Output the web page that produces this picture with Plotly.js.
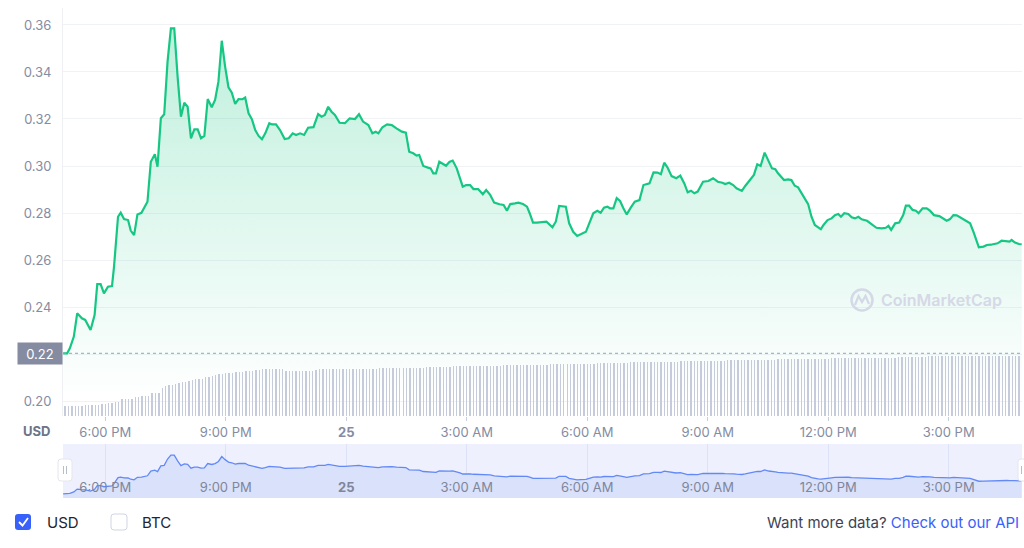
<!DOCTYPE html>
<html>
<head>
<meta charset="utf-8">
<script src="https://cdn.plot.ly/plotly-3.0.1.min.js"></script>
<style>
html,body{margin:0;padding:0;background:#fff;}
#chart{width:1024px;height:548px;}
</style>
</head>
<body>
<div id="chart"></div>
<script>
// ---- DATA ----
// price samples: minutes after 6:00 PM (day 24) and USD price
const priceMinutes = [
-63,-57,-53,-47,-42,-35,-30,-22,-16,-12,-7,-2,4,10,13,19,23,28,34,38,43,48,54,63,68,74,78,83,88,93,98,103,108,113,118,123,128,133,138,143,148,153,159,164,169,174,179,184,189,194,199,205,209,214,219,224,229,234,239,245,249,255,261,268,274,280,285,291,297,
303,311,318,323,328,333,338,343,350,358,365,373,379,385,393,399,404,408,414,421,428,435,443,449,454,460,465,469,475,482,486,490,494,499,504,509,514,519,525,530,534,539,545,550,557,564,569,575,581,589,595,600,605,612,617,624,630,634,639,645,654,
659,668,673,678,688,693,699,705,710,718,723,729,735,740,745,750,754,759,764,769,774,779,785,791,798,804,813,819,825,830,835,840,846,853,859,865,870,875,880,885,893,901,908,915,922,926,932,938,943,951,956,963,969,974,979,985,991,996,1001,1005,
1014,1020,1025,1030,1035,1040,1045,1050,1055,1060,1065,1069,1073,1079,1085,1090,1095,1099,1104,1110,1115,1120,1125,1130,1138,1145,1152,1160,1166,1170,1174,1180,1186,1192,1196,1201,1206,1211,1215,1221,1227,1232,1238,1246,1252,1257,1262,1267,1272,1279,1286,1292,1297,1301,1305,1312,1317,1323,1329,1333,1339,1347,1351,1354,1359,1365,1369];
const priceUsd = [
0.2203,0.2203,0.2224,0.2274,0.2373,0.2352,0.2345,0.2302,0.2366,0.2497,0.2497,0.2458,0.2486,0.2489,0.2571,0.2784,0.2801,0.2774,0.2770,0.2725,0.2706,0.2794,0.2801,0.2848,0.3018,0.3050,0.2997,0.3203,0.3220,0.3444,0.3586,0.3586,0.3380,0.3210,0.3269,0.3252,0.3118,0.3156,0.3156,0.3118,0.3128,0.3285,0.3250,0.3281,0.3359,0.3533,0.3423,0.3335,0.3312,0.3264,0.3285,0.3284,0.3291,0.3224,0.3199,0.3153,0.3128,0.3114,0.3139,0.3182,0.3177,0.3177,0.3153,0.3115,0.3118,0.3139,0.3132,0.3139,0.3132,
0.3163,0.3165,0.3221,0.3210,0.3217,0.3252,0.3231,0.3217,0.3184,0.3182,0.3203,0.3200,0.3220,0.3189,0.3174,0.3139,0.3146,0.3139,0.3165,0.3177,0.3174,0.3160,0.3146,0.3142,0.3061,0.3054,0.3044,0.3047,0.3000,0.2993,0.2990,0.2969,0.2969,0.3018,0.3009,0.3001,0.3017,0.3023,0.2990,0.2948,0.2912,0.2919,0.2919,0.2902,0.2902,0.2880,0.2898,0.2877,0.2844,0.2837,0.2834,0.2810,0.2838,0.2841,0.2844,0.2838,0.2827,0.2799,0.2759,0.2759,0.2760,
0.2763,0.2739,0.2763,0.2830,0.2827,0.2756,0.2720,0.2702,0.2709,0.2720,0.2756,0.2799,0.2809,0.2801,0.2823,0.2827,0.2820,0.2820,0.2863,0.2851,0.2820,0.2794,0.2823,0.2848,0.2855,0.2919,0.2926,0.2973,0.2972,0.2965,0.3014,0.2993,0.2957,0.2948,0.2959,0.2926,0.2888,0.2895,0.2884,0.2891,0.2933,0.2936,0.2948,0.2933,0.2929,0.2923,0.2929,0.2919,0.2905,0.2894,0.2915,0.2943,0.2962,0.3007,0.3000,0.3057,0.3018,0.2990,0.2986,0.2969,
0.2940,0.2943,0.2940,0.2916,0.2909,0.2886,0.2863,0.2838,0.2784,0.2749,0.2739,0.2731,0.2749,0.2770,0.2777,0.2791,0.2796,0.2784,0.2799,0.2796,0.2782,0.2777,0.2784,0.2773,0.2767,0.2752,0.2737,0.2735,0.2737,0.2745,0.2728,0.2756,0.2759,0.2791,0.2831,0.2831,0.2813,0.2810,0.2799,0.2820,0.2820,0.2810,0.2791,0.2787,0.2777,0.2767,0.2774,0.2791,0.2790,0.2777,0.2766,0.2756,0.2720,0.2685,0.2654,0.2657,0.2664,0.2665,0.2668,0.2671,0.2682,0.2681,0.2678,0.2685,0.2674,0.2668,0.2667];

// volume bars, one every 5 minutes starting 5:00 PM (arbitrary units, read as bar heights)
const volumeStartMinute = -60;
const volumeStepMinutes = 5;
const volume = [
1.0,1.0,1.0,1.0,1.0,1.0,1.1,1.1,1.1,1.1,1.1,
1.2,1.2,1.3,1.3,1.4,1.4,
1.7,1.7,1.7,1.7,1.9,1.9,2.0,2.0,2.0,2.3,2.3,2.3,
2.8,3.0,3.1,3.1,3.2,3.3,3.4,3.4,3.5,3.6,3.7,3.7,3.7,
3.9,3.9,4.0,4.1,4.2,4.2,4.3,4.3,4.3,4.4,4.4,
4.4,4.5,4.5,4.5,4.6,4.6,4.7,4.7,4.7,4.7,4.7,4.7,4.7,
4.5,4.5,4.5,4.5,4.5,4.5,4.5,4.5,4.5,
4.6,4.7,4.7,4.7,4.7,4.7,4.7,4.7,
4.7,4.7,4.7,4.7,4.7,4.7,4.7,4.7,4.7,4.7,4.7,
4.8,4.8,4.8,4.8,4.8,4.8,4.8,4.8,4.8,4.8,4.8,4.8,4.8,4.8,
4.9,4.9,4.9,4.9,4.9,4.9,4.9,4.9,
5.0,5.0,5.0,5.0,5.0,5.0,5.0,5.0,5.0,5.0,5.0,5.0,5.0,5.0,5.0,
5.1,5.1,5.1,5.1,5.1,5.1,5.1,5.1,5.1,5.1,5.1,5.1,5.1,5.1,
5.2,5.2,5.2,5.2,5.2,5.2,5.2,5.2,5.2,5.2,5.2,5.2,5.2,5.2,
5.3,5.3,5.3,5.3,5.3,5.3,5.3,5.3,5.3,5.3,
5.4,5.4,5.4,5.4,5.4,5.4,5.4,5.4,5.4,5.4,5.4,5.4,5.4,5.4,5.4,
5.5,5.5,5.5,5.5,5.5,5.5,5.5,5.5,5.5,5.5,5.5,5.5,5.5,5.5,
5.6,5.6,5.6,5.6,5.6,5.6,5.6,5.6,5.6,5.6,5.6,5.6,5.6,5.6,5.6,
5.7,5.7,5.7,5.7,5.7,5.7,5.7,5.7,5.7,5.7,5.7,5.7,5.7,5.7,5.7,5.7,
5.8,5.8,5.8,5.8,5.8,5.8,5.8,5.8,5.8,5.8,5.8,5.8,5.8,5.8,5.8,5.8,5.8,5.8,5.8,5.8,
5.9,5.9,5.9,5.9,5.9,5.9,5.9,5.9,5.9,
6.0,6.0,6.0,6.0,6.0,6.0,6.0,6.0,6.0,6.0,6.0,6.0,6.0,6.0,6.0,6.0,6.0,6.0,6.0,6.0,6.0,6.0,6.0,6.0,6.0,6.0,6.0,6.0];

const tickMinutes = [0,180,360,540,720,900,1080,1260];
const tickLabels = ["6:00 PM","9:00 PM","<b>25</b>","3:00 AM","6:00 AM","9:00 AM","12:00 PM","3:00 PM"];
const yTicks = [0.20,0.22,0.24,0.26,0.28,0.30,0.32,0.34,0.36];
// the 0.22 tick is hidden behind the open-price badge in the reference
const yTickLabels = ["0.20","","0.24","0.26","0.28","0.30","0.32","0.34","0.36"];
const openPrice = 0.2203;
const openLabel = "0.22";

// ---- BUILD ----
const BASE = Date.UTC(2021,4,24,18,0,0);
const MIN = 60000;
const tPrice = priceMinutes.map(m => BASE + m*MIN);
const tVol = volume.map((v,i) => BASE + (volumeStartMinute + i*volumeStepMinutes)*MIN);
const tickVals = tickMinutes.map(m => BASE + m*MIN);
const xRange = [BASE - 63.2*MIN, BASE + 1369.5*MIN];

const GREEN = '#16c784';
const FONT = 'Inter, "Noto Sans", "DejaVu Sans", sans-serif';
const LABEL = '#858ca2';

const traces = [
  {
    type:'scatter', mode:'lines', x:tPrice, y:priceUsd, xaxis:'x', yaxis:'y',
    line:{color:GREEN, width:2.2, shape:'linear'},
    fill:'tozeroy',
    fillgradient:{type:'vertical', start:0.20, stop:0.36,
      colorscale:[[0,'rgba(22,199,132,0)'],[1,'rgba(22,199,132,0.28)']]},
    hoverinfo:'skip', showlegend:false
  },
  {
    type:'bar', x:tVol, y:volume, xaxis:'x', yaxis:'y2',
    width: 2*MIN, marker:{color:'#c6cbdc', line:{width:0}},
    hoverinfo:'skip', showlegend:false
  },
  {
    type:'scatter', mode:'lines', x:tPrice, y:priceUsd, xaxis:'x2', yaxis:'y3',
    line:{color:'#6389f6', width:1.3},
    fill:'tozeroy', fillcolor:'#d9e1fb',
    hoverinfo:'skip', showlegend:false
  }
];

const L = 63, B = 498; // pixel anchors (plot left, plot bottom)
function px(x){return x - L;}
function py(y){return B - y;}
function pxShape(o){
  return Object.assign({xref:'paper', yref:'paper', xsizemode:'pixel', ysizemode:'pixel', xanchor:0, yanchor:0}, o);
}

const layout = {
  width:1024, height:548,
  margin:{l:63, r:2, t:8, b:50},
  paper_bgcolor:'#ffffff', plot_bgcolor:'rgba(0,0,0,0)',
  font:{family:FONT, size:13, color:LABEL},
  showlegend:false,
  bargap:0,
  xaxis:{
    type:'date', domain:[0,1], anchor:'y', range:xRange,
    tickvals:tickVals, ticktext:tickLabels,
    ticks:'outside', ticklen:4, tickcolor:'#c9cedb', tickwidth:1,
    showgrid:false, zeroline:false, showline:false,
    tickfont:{size:13, color:LABEL, family:FONT},
    fixedrange:true, automargin:false
  },
  yaxis:{
    domain:[0.16735,1], anchor:'x', range:[0.19362,0.36723],
    tickvals:yTicks, ticktext:yTickLabels,
    ticks:'', ticklabelstandoff:8,
    showgrid:true, gridcolor:'#f1f2f6', gridwidth:1,
    zeroline:false, showline:true, linecolor:'#eef0f4', linewidth:1,
    tickfont:{size:13, color:LABEL, family:FONT},
    fixedrange:true, automargin:false
  },
  yaxis2:{
    overlaying:'y', range:[0,40.8], visible:false, fixedrange:true
  },
  xaxis2:{
    type:'date', domain:[0,1], anchor:'y3', range:xRange,
    tickvals:tickVals, ticktext:tickLabels,
    ticks:'', ticklabelposition:'inside',
    showgrid:true, gridcolor:'#dde2f6', gridwidth:1,
    zeroline:false, showline:false,
    tickfont:{size:13, color:'#7f869a', family:FONT},
    fixedrange:true, automargin:false
  },
  yaxis3:{
    domain:[0,0.1102], anchor:'x2', range:[0.2057,0.398],
    visible:false, showgrid:false, zeroline:false, fixedrange:true
  },
  shapes:[
    {type:'rect', xref:'x2 domain', yref:'y3 domain', x0:0, x1:1, y0:0, y1:1,
     fillcolor:'#eef1fd', line:{width:0}, layer:'below'},
    {type:'line', xref:'paper', yref:'y', x0:0, x1:1, y0:openPrice, y1:openPrice,
     line:{color:'#9aa0b4', width:1, dash:'dot'}, layer:'above'},
    pxShape({type:'path', path:`M ${px(61)},${py(459)} L ${px(69)},${py(459)} Q ${px(72)},${py(459)} ${px(72)},${py(462)} L ${px(72)},${py(478)} Q ${px(72)},${py(481)} ${px(69)},${py(481)} L ${px(61)},${py(481)} Q ${px(58)},${py(481)} ${px(58)},${py(478)} L ${px(58)},${py(462)} Q ${px(58)},${py(459)} ${px(61)},${py(459)} Z`,
      fillcolor:'#ffffff', line:{color:'#e3e6ee', width:1}}),
    pxShape({type:'line', x0:px(63.5), x1:px(63.5), y0:py(466), y1:py(474), line:{color:'#b8bdcc', width:1}}),
    pxShape({type:'line', x0:px(66.5), x1:px(66.5), y0:py(466), y1:py(474), line:{color:'#b8bdcc', width:1}}),
    pxShape({type:'path', path:`M ${px(1021)},${py(459)} L ${px(1029)},${py(459)} L ${px(1029)},${py(481)} L ${px(1021)},${py(481)} Q ${px(1018)},${py(481)} ${px(1018)},${py(478)} L ${px(1018)},${py(462)} Q ${px(1018)},${py(459)} ${px(1021)},${py(459)} Z`,
      fillcolor:'#ffffff', line:{color:'#e3e6ee', width:1}}),
    pxShape({type:'line', x0:px(1021.5), x1:px(1021.5), y0:py(466), y1:py(474), line:{color:'#b8bdcc', width:1}}),
    pxShape({type:'path', path:`M ${px(18)},${py(514)} L ${px(28)},${py(514)} Q ${px(31)},${py(514)} ${px(31)},${py(517)} L ${px(31)},${py(527)} Q ${px(31)},${py(530)} ${px(28)},${py(530)} L ${px(18)},${py(530)} Q ${px(15)},${py(530)} ${px(15)},${py(527)} L ${px(15)},${py(517)} Q ${px(15)},${py(514)} ${px(18)},${py(514)} Z`,
      fillcolor:'#3861fb', line:{width:0}}),
    pxShape({type:'path', path:`M ${px(19)},${py(522)} L ${px(22.5)},${py(525.5)} L ${px(28)},${py(518)}`,
      line:{color:'#ffffff', width:1.8}}),
    pxShape({type:'path', path:`M ${px(114)},${py(514)} L ${px(124)},${py(514)} Q ${px(127)},${py(514)} ${px(127)},${py(517)} L ${px(127)},${py(527)} Q ${px(127)},${py(530)} ${px(124)},${py(530)} L ${px(114)},${py(530)} Q ${px(111)},${py(530)} ${px(111)},${py(527)} L ${px(111)},${py(517)} Q ${px(111)},${py(514)} ${px(114)},${py(514)} Z`,
      fillcolor:'#ffffff', line:{color:'#cfd5e3', width:1}}),
    pxShape({type:'circle', x0:px(851.5), x1:px(872.5), y0:py(289.5), y1:py(310.5), line:{color:'#d5d8e6', width:2.5}}),
    pxShape({type:'path', path:`M ${px(855)},${py(305)} L ${px(858.5)},${py(296)} L ${px(862)},${py(302)} L ${px(865.5)},${py(296)} L ${px(869)},${py(304)}`,
      line:{color:'#d5d8e6', width:2.2}})
  ],
  annotations:[
    {xref:'paper', yref:'y', x:0, y:openPrice, xanchor:'right', yanchor:'middle',
     text:openLabel, showarrow:false, bgcolor:'#858ca2', width:38, height:15, borderpad:3,
     font:{color:'#ffffff', size:13, family:FONT}},
    {xref:'paper', yref:'paper', x:(36-L)/959, y:(B-431)/490, xanchor:'center', yanchor:'middle',
     text:'<b>USD</b>', showarrow:false, font:{color:'#6b7489', size:13, family:FONT}},
    {xref:'paper', yref:'paper', x:(879-L)/959, y:(B-300)/490, xanchor:'left', yanchor:'middle',
     text:'CoinMarketCap', showarrow:false, font:{color:'#d5d8e6', size:16, family:FONT, weight:600}},
    {xref:'paper', yref:'paper', x:(45-L)/959, y:(B-522)/490, xanchor:'left', yanchor:'middle',
     text:'USD', showarrow:false, font:{color:'#222531', size:15, family:FONT}},
    {xref:'paper', yref:'paper', x:(140-L)/959, y:(B-522)/490, xanchor:'left', yanchor:'middle',
     text:'BTC', showarrow:false, font:{color:'#222531', size:15, family:FONT}},
    {xref:'paper', yref:'paper', x:(1021-L)/959, y:(B-522)/490, xanchor:'right', yanchor:'middle',
     text:'Want more data? <span style="color:#3861fb">Check out our API</span>', showarrow:false,
     font:{color:'#3d4354', size:15, family:FONT}}
  ]
};

Plotly.newPlot('chart', traces, layout, {displayModeBar:false, staticPlot:true});
</script>
</body>
</html>
